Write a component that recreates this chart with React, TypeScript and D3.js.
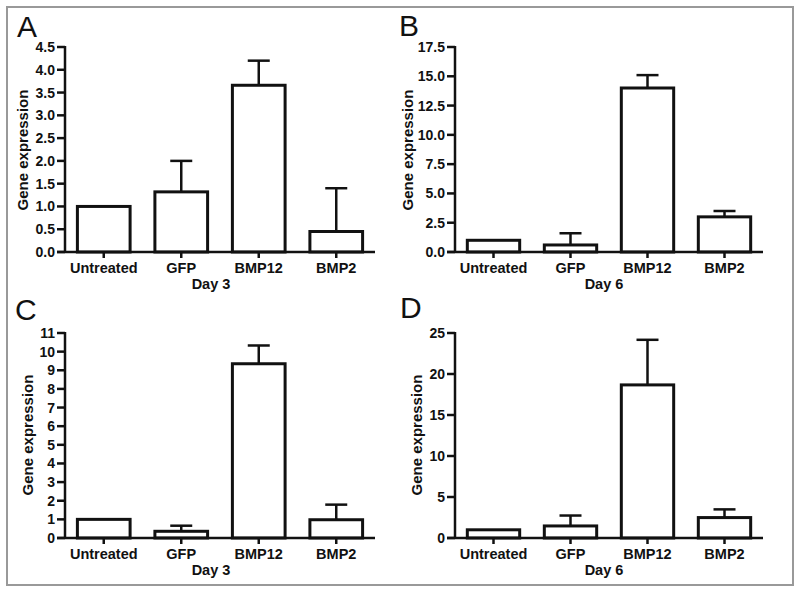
import React from "react";
import * as d3 from "d3";

const categories = ["Untreated", "GFP", "BMP12", "BMP2"];

const valuesA = [1.0, 1.32, 3.66, 0.45];
const errorsA = [0, 0.68, 0.54, 0.95];
const ticksA = [0, 0.5, 1, 1.5, 2, 2.5, 3, 3.5, 4, 4.5];

const valuesB = [1.0, 0.6, 14.0, 3.0];
const errorsB = [0, 1.0, 1.1, 0.5];
const ticksB = [0, 2.5, 5, 7.5, 10, 12.5, 15, 17.5];

const valuesC = [1.0, 0.36, 9.35, 0.98];
const errorsC = [0, 0.3, 0.98, 0.81];
const ticksC = [0, 1, 2, 3, 4, 5, 6, 7, 8, 9, 10, 11];

const valuesD = [1.0, 1.47, 18.67, 2.49];
const errorsD = [0, 1.27, 5.5, 1.0];
const ticksD = [0, 5, 10, 15, 20, 25];

const panelLetters = ["A", "B", "C", "D"];
const dayLabels = ["Day 3", "Day 6", "Day 3", "Day 6"];
const yTitle = "Gene expression";

const FONT = "'Liberation Sans', Arial, Helvetica, sans-serif";

type Panel = {
  letter: string;
  day: string;
  values: number[];
  errors: number[];
  ticks: number[];
  fmt: (n: number) => string;
  x0: number;
  x1: number;
  yTop: number;
  yBot: number;
  letterX: number;
  letterY: number;
  titleX: number;
  titleY: number;
  dayX: number;
};

const panels: Panel[] = [
  {
    letter: panelLetters[0], day: dayLabels[0], values: valuesA, errors: errorsA, ticks: ticksA,
    fmt: d3.format(".1f"), x0: 65, x1: 375, yTop: 47, yBot: 252,
    letterX: 17, letterY: 37, titleX: 22.5, titleY: 150, dayX: 211,
  },
  {
    letter: panelLetters[1], day: dayLabels[1], values: valuesB, errors: errorsB, ticks: ticksB,
    fmt: d3.format(".1f"), x0: 455, x1: 763, yTop: 47, yBot: 252,
    letterX: 399, letterY: 36, titleX: 407, titleY: 150, dayX: 604,
  },
  {
    letter: panelLetters[2], day: dayLabels[2], values: valuesC, errors: errorsC, ticks: ticksC,
    fmt: d3.format("d"), x0: 65, x1: 375, yTop: 333, yBot: 538,
    letterX: 15, letterY: 320, titleX: 27, titleY: 435, dayX: 211,
  },
  {
    letter: panelLetters[3], day: dayLabels[3], values: valuesD, errors: errorsD, ticks: ticksD,
    fmt: d3.format("d"), x0: 455, x1: 763, yTop: 333, yBot: 538,
    letterX: 400, letterY: 318, titleX: 416, titleY: 435, dayX: 604,
  },
];

function PanelView({ p }: { p: Panel }) {
  const x = d3
    .scaleBand<string>()
    .domain(categories)
    .range([p.x0, p.x1])
    .paddingInner(0.32)
    .paddingOuter(0.16);
  const yMax = p.ticks[p.ticks.length - 1];
  const y = d3.scaleLinear().domain([0, yMax]).range([p.yBot, p.yTop]);
  const bw = x.bandwidth();
  const capW = 22;
  return (
    <g>
      <text x={p.letterX} y={p.letterY} fontFamily={FONT} fontSize={30} fill="#111">
        {p.letter}
      </text>
      {categories.map((c, i) => {
        const v = p.values[i];
        const e = p.errors[i];
        const bx = x(c)!;
        const cx = bx + bw / 2;
        return (
          <g key={c}>
            {e > 0 && (
              <g stroke="#111" strokeWidth={2.5}>
                <line x1={cx} x2={cx} y1={y(v)} y2={y(v + e)} />
                <line x1={cx - capW / 2} x2={cx + capW / 2} y1={y(v + e)} y2={y(v + e)} />
              </g>
            )}
            <rect
              x={bx}
              y={y(v)}
              width={bw}
              height={y(0) - y(v)}
              fill="#fff"
              stroke="#111"
              strokeWidth={3}
            />
          </g>
        );
      })}
      <line x1={p.x0} x2={p.x0} y1={p.yTop - 1} y2={p.yBot} stroke="#111" strokeWidth={2.5} />
      {p.ticks.map((t) => (
        <g key={t}>
          <line x1={p.x0 - 8} x2={p.x0} y1={y(t)} y2={y(t)} stroke="#111" strokeWidth={2.5} />
          <text
            x={p.x0 - 10}
            y={y(t)}
            textAnchor="end"
            dominantBaseline="central"
            fontFamily={FONT}
            fontWeight="bold"
            fontSize={14}
            fill="#111"
          >
            {p.fmt(t)}
          </text>
        </g>
      ))}
      <line x1={p.x0 - 8} x2={p.x1} y1={p.yBot} y2={p.yBot} stroke="#111" strokeWidth={2.5} />
      {categories.map((c) => {
        const cx = x(c)! + bw / 2;
        return (
          <g key={c}>
            <line x1={cx} x2={cx} y1={p.yBot} y2={p.yBot + 6} stroke="#111" strokeWidth={2.5} />
            <text
              x={cx}
              y={p.yBot + 21}
              textAnchor="middle"
              fontFamily={FONT}
              fontWeight="bold"
              fontSize={14.5}
              fill="#111"
            >
              {c}
            </text>
          </g>
        );
      })}
      <text
        x={p.dayX}
        y={p.yBot + 37}
        textAnchor="middle"
        fontFamily={FONT}
        fontWeight="bold"
        fontSize={14.5}
        fill="#111"
      >
        {p.day}
      </text>
      <text
        transform={`translate(${p.titleX},${p.titleY}) rotate(-90)`}
        textAnchor="middle"
        dominantBaseline="central"
        fontFamily={FONT}
        fontWeight="bold"
        fontSize={15}
        fill="#111"
      >
        {yTitle}
      </text>
    </g>
  );
}

export default function App() {
  return (
    <svg
      width={800}
      height={594}
      viewBox="0 0 800 594"
      style={{ position: "absolute", left: 0, top: 0, display: "block", background: "#fff" }}
    >
      <rect x={0} y={0} width={800} height={594} fill="#fff" />
      <rect x={7} y={7} width={786} height={578} fill="none" stroke="#999" strokeWidth={2} />
      {panels.map((p) => (
        <PanelView key={p.letter} p={p} />
      ))}
    </svg>
  );
}
